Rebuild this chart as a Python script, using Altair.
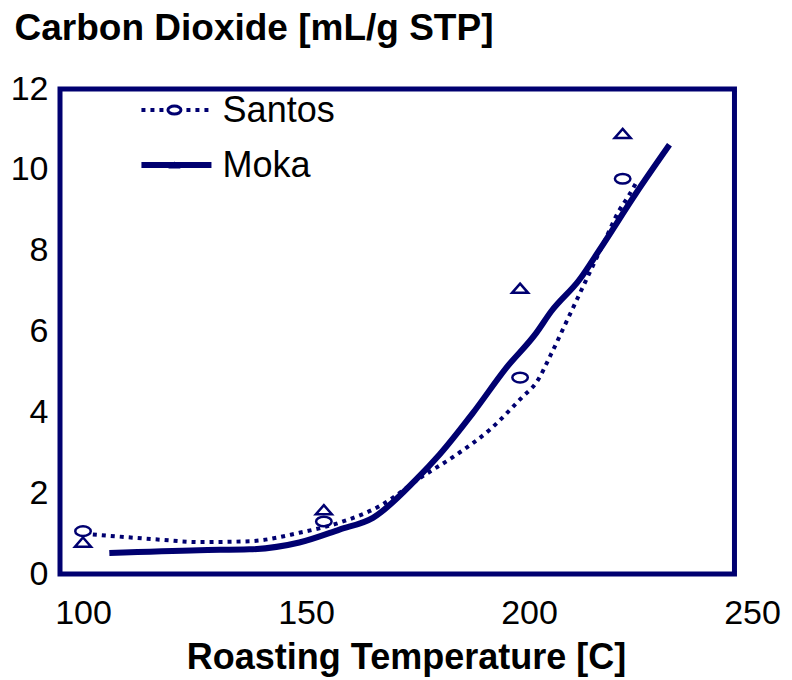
import altair as alt
import pandas as pd

NAVY = "#000070"
FONT = "Liberation Sans"

# ---- data ----
x_ticks = [100, 150, 200, 250]
y_ticks = [0, 2, 4, 6, 8, 10, 12]

santos_pts_x = [100, 154, 198, 221]
santos_pts_y = [1.06, 1.30, 4.86, 9.78]
moka_pts_x = [100, 154, 198, 221]
moka_pts_y = [0.79, 1.59, 7.07, 10.90]

santos_curve_x = [102.2, 117.2, 126.1, 137.3, 148.5, 157.5, 166.5, 176.2, 183.7,
                  191.2, 198.6, 201.6, 205.0, 208.0, 211.0, 214.0, 217.0,
                  220.0, 222.3, 224.0]
santos_curve_y = [0.98, 0.85, 0.79, 0.81, 1.02, 1.27, 1.68, 2.42, 2.95,
                  3.57, 4.39, 4.73, 5.45, 6.15, 6.85, 7.55, 8.25,
                  8.95, 9.35, 9.67]

moka_curve_x = [105.9, 126.0, 137.3, 148.5, 157.5, 165.0, 174.7, 179.9, 187.4,
                194.9, 201.6, 205.0, 211.3, 215.8, 224.0, 231.5]
moka_curve_y = [0.52, 0.59, 0.61, 0.78, 1.10, 1.39, 2.34, 2.95, 3.98,
                5.10, 5.96, 6.50, 7.28, 8.02, 9.42, 10.62]

series_names = ["Santos", "Moka"]

# frame / layout constants
X_MIN, X_MAX = 94.84, 250.0
FRAME_X2 = 246.07
Y_MIN, Y_MAX = 0, 12

# marker shapes (wide ellipse and flat triangle, as in the original)
ELLIPSE = ("M-1,0 C-1,-0.342 -0.552,-0.62 0,-0.62 C0.552,-0.62 1,-0.342 1,0 "
           "C1,0.342 0.552,0.62 0,0.62 C-0.552,0.62 -1,0.342 -1,0 Z")
TRIANGLE = "M0,-0.57 L1,0.57 L-1,0.57 Z"

santos_pts = pd.DataFrame({"x": santos_pts_x, "y": santos_pts_y})
moka_pts = pd.DataFrame({"x": moka_pts_x, "y": moka_pts_y})
santos_curve = pd.DataFrame({"x": santos_curve_x, "y": santos_curve_y})
moka_curve = pd.DataFrame({"x": moka_curve_x, "y": moka_curve_y})

xs = alt.Scale(domain=[X_MIN, X_MAX], nice=False, zero=False)
ys = alt.Scale(domain=[Y_MIN, Y_MAX], nice=False, zero=False)

x_axis = alt.Axis(values=x_ticks, domain=False, ticks=False, tickSize=0, grid=False,
                  labelFlush=False, labelOverlap=False,
                  labelFontSize=34, labelPadding=22, labelColor="black", labelFont=FONT,
                  title="Roasting Temperature [C]", titleFontSize=36, titleFontWeight="bold",
                  titleFont=FONT, titleColor="black", titlePadding=10)
y_axis = alt.Axis(values=y_ticks, domain=False, ticks=False, tickSize=0, grid=False,
                  labelFontSize=34, labelPadding=12, labelColor="black", labelFont=FONT,
                  labelFlush=False, labelOverlap=False,
                  title="Carbon Dioxide [mL/g STP]", titleFontSize=37, titleFontWeight="bold",
                  titleFont=FONT, titleColor="black", titleAngle=0, titleAlign="left",
                  titleBaseline="alphabetic", titleX=-46, titleY=-50)

base_x = alt.X("x:Q", scale=xs, axis=x_axis)
base_y = alt.Y("y:Q", scale=ys, axis=y_axis)

frame = alt.Chart(pd.DataFrame({"x": [X_MIN], "x2": [FRAME_X2], "y": [Y_MIN], "y2": [Y_MAX]})).mark_rect(
    fill="white", fillOpacity=0, stroke=NAVY, strokeWidth=5
).encode(x=base_x, x2="x2:Q", y=base_y, y2="y2:Q")

santos_line = alt.Chart(santos_curve).mark_line(
    color=NAVY, strokeWidth=4, strokeDash=[4, 5], interpolate="monotone"
).encode(x="x:Q", y="y:Q")

moka_line = alt.Chart(moka_curve).mark_line(
    color=NAVY, strokeWidth=6, interpolate="monotone"
).encode(x="x:Q", y="y:Q")

santos_mark = alt.Chart(santos_pts).mark_point(
    shape=ELLIPSE, filled=False, color=NAVY, strokeWidth=2.5, size=240, opacity=1
).encode(x="x:Q", y="y:Q")

moka_mark = alt.Chart(moka_pts).mark_point(
    shape=TRIANGLE, filled=False, color=NAVY, strokeWidth=2.5, size=256, opacity=1
).encode(x="x:Q", y="y:Q")

# legend (inside the frame, top-left)
LEG_X1, LEG_X2, LEG_XM, LEG_TX = 113.1, 128.8, 120.5, 131.3
LEG_Y = [11.48, 10.12]
leg = pd.DataFrame({"name": series_names, "x1": [LEG_X1] * 2, "x2": [LEG_X2] * 2,
                    "xm": [LEG_XM] * 2, "tx": [LEG_TX] * 2, "y": LEG_Y})

leg_santos_line = alt.Chart(leg[leg.name == "Santos"]).mark_rule(
    color=NAVY, strokeWidth=4, strokeDash=[4, 5]
).encode(x="x1:Q", x2="x2:Q", y="y:Q")
leg_moka_line = alt.Chart(leg[leg.name == "Moka"]).mark_rule(
    color=NAVY, strokeWidth=6
).encode(x="x1:Q", x2="x2:Q", y="y:Q")
leg_santos_pt = alt.Chart(leg[leg.name == "Santos"]).mark_point(
    shape=ELLIPSE, filled=True, fill="white", stroke=NAVY, strokeWidth=3, size=170, opacity=1
).encode(x="xm:Q", y="y:Q")
leg_moka_pt = alt.Chart(leg[leg.name == "Moka"]).mark_point(
    shape=TRIANGLE, filled=True, color=NAVY, size=150, opacity=1
).encode(x="xm:Q", y="y:Q")
leg_text = alt.Chart(leg).mark_text(
    align="left", baseline="middle", fontSize=36, font=FONT, color="black", dy=1
).encode(x="tx:Q", y="y:Q", text="name:N")

chart = alt.layer(
    frame, santos_line, moka_line, santos_mark, moka_mark,
    leg_santos_line, leg_moka_line, leg_santos_pt, leg_moka_pt, leg_text
).properties(
    width=692, height=485,
    padding={"left": 60, "top": 89, "right": 40, "bottom": 106},
    autosize=alt.AutoSizeParams(type="none"),
    background="white",
).configure(font=FONT).configure_view(stroke="transparent", strokeWidth=0)

chart.save("out.html", embed_options={"renderer": "svg", "actions": False})
